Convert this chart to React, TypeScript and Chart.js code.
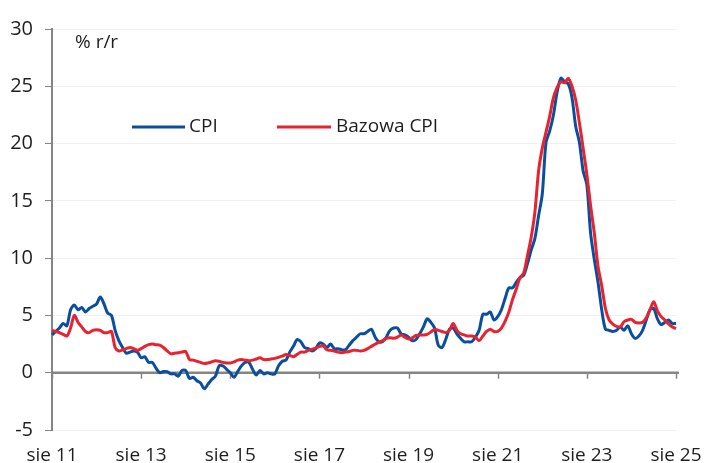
import { useEffect, useRef } from "react";
import { Chart, registerables } from "chart.js";

Chart.register(...registerables);

// Monthly data, sie 2011 – sie 2025 (% r/r)
const cpi: number[] = [
  3.3, 3.6, 3.9, 4.3, 4.1,
  5.5, 5.9, 5.5, 5.7, 5.3, 5.6, 5.8, 6.0, 6.6, 6.0, 5.2, 5.0,
  3.7, 2.8, 2.2, 1.7, 1.8, 1.9, 1.8, 1.3, 1.4, 0.9, 0.9, 0.4,
  0.0, 0.1, 0.1, -0.1, -0.1, -0.3, 0.2, 0.2, -0.5, -0.4, -0.7, -0.9,
  -1.4, -1.0, -0.6, -0.3, 0.6, 0.6, 0.3, 0.0, -0.4, 0.1, 0.6, 0.9,
  0.9, 0.3, -0.2, 0.2, -0.1, 0.0, -0.1, -0.1, 0.6, 1.0, 1.1, 1.8,
  2.3, 2.9, 2.7, 2.2, 2.1, 1.9, 2.1, 2.6, 2.5, 2.2, 2.5, 2.1,
  2.1, 2.0, 2.0, 2.4, 2.8, 3.1, 3.4, 3.4, 3.6, 3.8, 3.1, 2.7,
  2.7, 3.1, 3.7, 3.9, 3.9, 3.4, 3.3, 3.1, 2.8, 2.9, 3.4, 4.0,
  4.7, 4.4, 3.9, 2.4, 2.2, 2.9, 3.8, 3.9, 3.4, 3.0, 2.7, 2.7,
  2.7, 3.1, 3.7, 5.1, 5.1, 5.3, 4.6, 4.9, 5.5, 6.5, 7.4, 7.4,
  7.9, 8.3, 8.5, 9.5, 10.7, 11.7, 13.7, 15.6, 20.1, 21.1, 22.5, 24.5,
  25.7, 25.4, 25.2, 24.0, 21.5, 20.1, 17.6, 16.4, 12.2, 9.9, 7.9, 5.5,
  3.8, 3.7, 3.6, 3.7, 4.0, 3.7, 4.1, 3.4, 3.0, 3.2, 3.7, 4.6,
  5.5, 5.6, 4.7, 4.2, 4.4, 4.6, 4.3, 4.3,
];

const bazowa: number[] = [
  3.7, 3.6, 3.5, 3.35, 3.2,
  3.9, 5.0, 4.4, 4.0, 3.6, 3.5, 3.7, 3.75, 3.7, 3.5, 3.5, 3.6,
  2.2, 1.9, 2.0, 2.1, 2.2, 2.1, 1.95, 2.1, 2.3, 2.45, 2.5, 2.45,
  2.4, 2.2, 1.9, 1.65, 1.7, 1.75, 1.8, 1.85, 1.15, 1.1, 1.0, 0.9,
  0.8, 0.85, 0.95, 1.05, 1.0, 0.9, 0.85, 0.85, 0.95, 1.1, 1.15, 1.1,
  1.05, 1.1, 1.2, 1.3, 1.15, 1.15, 1.2, 1.25, 1.35, 1.45, 1.6, 1.5,
  1.4, 1.6, 1.8, 1.8, 1.95, 2.05, 2.15, 2.3, 2.35, 2.0, 1.95, 1.9,
  1.8, 1.75, 1.8, 1.85, 1.95, 1.95, 1.9, 1.95, 2.1, 2.3, 2.5, 2.65,
  2.8, 3.0, 3.05, 3.0, 3.1, 3.3, 3.1, 2.95, 3.05, 3.25, 3.3, 3.3,
  3.35, 3.55, 3.8, 3.7, 3.6, 3.5, 3.7, 4.3, 3.7, 3.4, 3.3, 3.2,
  3.2, 3.1, 2.8, 3.2, 3.6, 3.8, 3.6, 3.6, 3.9, 4.5, 5.3, 6.4,
  7.3, 8.3, 8.7, 10.2, 11.8, 14.0, 17.6, 19.6, 21.0, 22.4, 24.0, 24.9,
  25.4, 25.3, 25.7, 25.0, 23.8, 21.8, 19.6, 17.3, 14.6, 12.2, 9.3, 7.6,
  5.6, 4.6, 4.25, 4.05, 4.0, 4.45, 4.6, 4.65, 4.4, 4.35, 4.4, 4.8,
  5.5, 6.2, 5.4, 4.9, 4.6, 4.25, 4.0, 3.85,
];

const monthNames = ["sty", "lut", "mar", "kwi", "maj", "cze", "lip", "sie", "wrz", "paź", "lis", "gru"];
const startYear = 2011;
const startMonthIndex = 7; // sierpień

const categories: string[] = cpi.map((_, i) => {
  const mi = (startMonthIndex + i) % 12;
  const yr = startYear + Math.floor((startMonthIndex + i) / 12);
  return `${monthNames[mi]} ${String(yr).slice(2)}`;
});

const xTickLabels = ["sie 11", "sie 13", "sie 15", "sie 17", "sie 19", "sie 21", "sie 23", "sie 25"];
const yTicks = [-5, 0, 5, 10, 15, 20, 25, 30];

const seriesNames = ["CPI", "Bazowa CPI"];
const BLUE = "#0a4f9f";
const RED = "#e8222f";
const FONT = "'Open Sans', 'DejaVu Sans', sans-serif";
const TEXT = "#1e1e1e";

const zeroAxisPlugin = {
  id: "zeroAxis",
  beforeDatasetsDraw(chart: any) {
    const { ctx, scales } = chart;
    const x = scales.x;
    const y = scales.y;
    const y0 = y.getPixelForValue(0);
    ctx.save();
    ctx.strokeStyle = "#858585";
    ctx.lineWidth = 2.5;
    ctx.beginPath();
    ctx.moveTo(x.left, y0);
    ctx.lineTo(x.right + 3, y0);
    ctx.stroke();
    ctx.lineWidth = 1.5;
    categories.forEach((c, i) => {
      if (xTickLabels.includes(c)) {
        const px = Math.round(x.getPixelForValue(i)) + 0.5;
        ctx.beginPath();
        ctx.moveTo(px, y0);
        ctx.lineTo(px, y0 + 6);
        ctx.stroke();
      }
    });
    ctx.restore();
  },
};

const annotationsPlugin = {
  id: "annotations",
  afterDraw(chart: any) {
    const { ctx } = chart;
    ctx.save();
    ctx.font = `19px ${FONT}`;
    ctx.fillStyle = TEXT;
    ctx.textBaseline = "middle";
    ctx.textAlign = "left";
    ctx.fillText("% r/r", 75, 43);

    const items = [
      { name: seriesNames[0], color: BLUE, x1: 132, x2: 185, tx: 189 },
      { name: seriesNames[1], color: RED, x1: 277, x2: 331, tx: 336 },
    ];
    const ly = 127;
    items.forEach((it) => {
      ctx.strokeStyle = it.color;
      ctx.lineWidth = 3;
      ctx.beginPath();
      ctx.moveTo(it.x1, ly);
      ctx.lineTo(it.x2, ly);
      ctx.stroke();
      ctx.fillStyle = TEXT;
      ctx.fillText(it.name, it.tx, ly);
    });
    ctx.restore();
  },
};

export default function App() {
  const canvasRef = useRef<HTMLCanvasElement | null>(null);

  useEffect(() => {
    if (!canvasRef.current) return;
    const chart = new Chart(canvasRef.current, {
      type: "line",
      data: {
        labels: categories,
        datasets: [
          {
            label: seriesNames[0],
            data: cpi,
            borderColor: BLUE,
            backgroundColor: BLUE,
            borderWidth: 3,
            pointRadius: 0,
            tension: 0.3,
            fill: false,
            order: 2,
          },
          {
            label: seriesNames[1],
            data: bazowa,
            borderColor: RED,
            backgroundColor: RED,
            borderWidth: 3,
            pointRadius: 0,
            tension: 0.3,
            fill: false,
            order: 1,
          },
        ],
      },
      options: {
        responsive: false,
        animation: false,
        devicePixelRatio: 1,
        layout: { padding: { left: 0, right: 29, top: 29, bottom: 0 } },
        plugins: {
          legend: { display: false },
          tooltip: { enabled: false },
          title: { display: false },
        },
        scales: {
          x: {
            type: "category",
            grid: { display: false, drawTicks: false },
            border: { display: false },
            ticks: {
              autoSkip: false,
              maxRotation: 0,
              minRotation: 0,
              padding: 14,
              color: TEXT,
              font: { family: FONT, size: 19 },
              callback: (_v: any, index: number) =>
                xTickLabels.includes(categories[index]) ? categories[index] : "",
            },
            afterFit: (scale: any) => {
              scale.height = 33;
              scale.paddingLeft = 0;
              scale.paddingRight = 0;
            },
          },
          y: {
            min: -5,
            max: 30,
            afterBuildTicks: (scale: any) => {
              scale.ticks = yTicks.map((v) => ({ value: v }));
            },
            grid: {
              color: "rgba(0,0,0,0.06)",
              tickColor: "#858585",
              tickLength: 7,
              drawTicks: true,
              lineWidth: 1,
            },
            border: { display: true, color: "#858585", width: 2 },
            ticks: {
              padding: 12,
              color: TEXT,
              font: { family: FONT, size: 20 },
            },
            afterFit: (scale: any) => {
              scale.width = 52;
              scale.paddingTop = 0;
              scale.paddingBottom = 0;
            },
          },
        },
      },
      plugins: [zeroAxisPlugin, annotationsPlugin],
    });
    return () => chart.destroy();
  }, []);

  return (
    <div style={{ position: "fixed", left: 0, top: 0, width: 705, height: 463, background: "#fff" }}>
      <canvas ref={canvasRef} width={705} height={463} />
    </div>
  );
}
